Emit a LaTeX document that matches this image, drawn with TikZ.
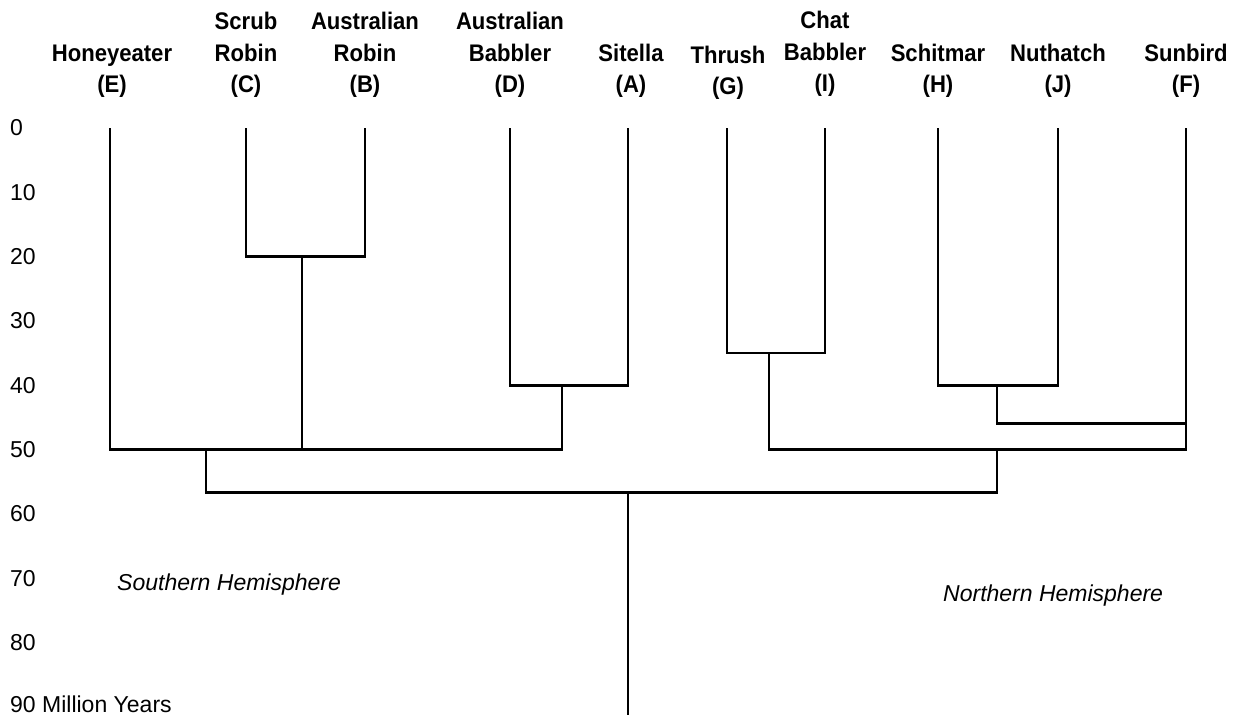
\documentclass[tikz,border=0pt]{standalone}
\usepackage{fontspec}
\setmainfont{Liberation Sans}
\newfontfamily\speciesfont[FakeStretch=0.92]{Liberation Sans}
\usepackage{tikz}
\usetikzlibrary{positioning}
\tikzstyle{branch} = [line width=2.8pt, line join=miter, color=black]
\tikzstyle{species} = [anchor=south, inner sep=0pt, align=center, font=\speciesfont\bfseries\fontsize{24}{31.5}\selectfont]
\tikzstyle{scale label} = [anchor=west, inner sep=0pt, font=\fontsize{23}{28}\selectfont]
\tikzstyle{region} = [anchor=base west, inner sep=0pt, font=\itshape\fontsize{23}{28}\selectfont]

\begin{document}
\begin{tikzpicture}[x=1pt, y=-6.43pt]
\useasboundingbox (0,-19.91) rectangle (1237,91.29);

% Tips (0 million years)
\coordinate (E) at (110,0);
\coordinate (C) at (246,0);
\coordinate (B) at (365,0);
\coordinate (D) at (510,0);
\coordinate (A) at (628,0);
\coordinate (G) at (727,0);
\coordinate (I) at (825,0);
\coordinate (H) at (938,0);
\coordinate (J) at (1058,0);
\coordinate (F) at (1186,0);

% Branch points
\coordinate (cb) at (302,20);
\coordinate (da) at (562,40);
\coordinate (s) at (206,50);
\coordinate (gi) at (769,35);
\coordinate (hj) at (997,40);
\coordinate (hf) at (1186,46);
\coordinate (n) at (997,50);
\coordinate (root) at (628,56.7);
\coordinate (base) at (628,91.29);

% Species names
\node[species] (lbE) at (112,-4.67) {Honeyeater\\(E)};
\node[species] (lbC) at (246,-4.67) {Scrub\\Robin\\(C)};
\node[species] (lbB) at (365,-4.67) {Australian\\Robin\\(B)};
\node[species] (lbD) at (510,-4.67) {Australian\\Babbler\\(D)};
\node[species] (lbA) at (631,-4.67) {Sitella\\(A)};
\node[species] (lbG) at (728,-4.35) {Thrush\\(G)};
\node[species] (lbI) at (825,-4.8) {Chat\\Babbler\\(I)};
\node[species] (lbH) at (938,-4.67) {Schitmar\\(H)};
\node[species] (lbJ) at (1058,-4.67) {Nuthatch\\(J)};
\node[species] (lbF) at (1186,-4.67) {Sunbird\\(F)};

% Time scale
\foreach \t in {0,10,...,80} {
    \node[scale label] at (10,\t) {\t};
}
\node[scale label] (years) at (10,89.6) {90 Million Years};

% Southern clade
\draw[branch] (C) |- (cb) -| (B);
\draw[branch] (D) |- (da) -| (A);
\draw[branch] (E) |- (s) -| (da);
\draw[branch] (cb) -- (cb |- s);

% Northern clade
\draw[branch] (G) |- (gi) -| (I);
\draw[branch] (H) |- (hj) -| (J);
\draw[branch] (hj) |- (hf);
\draw[branch] (gi) |- (n) -| (F);

% Root
\draw[branch] (s) |- (root) -| (n);
\draw[branch] (root) -- (base);

% Hemispheres
\node[region] (south) at (117,72.0) {Southern Hemisphere};
\node[region] (north) at (943,73.56) {Northern Hemisphere};
\end{tikzpicture}
\end{document}
